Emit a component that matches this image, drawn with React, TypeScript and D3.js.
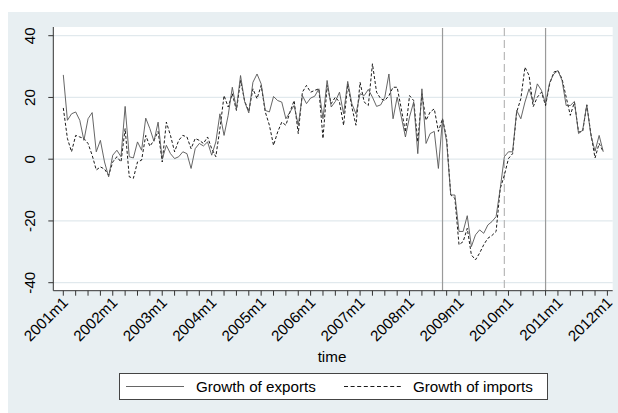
import React from "react";
import * as d3 from "d3";

const startYear = 2001;
const exportsGrowth = [
  27.3, 12.6, 14.7, 15.3, 12.6, 6.1, 13.1, 15.1, 2.4, 6.1, -0.9, -5.7,
  1.3, 2.9, 0.8, 17.1, 0.8, 0.4, 5.6, 2.9, 13.3, 9.9, 5.8, 12.0,
  0, 4.5, 1.8, 0.2, 0.8, 2.4, 1.8, -3.0, 3.4, 5.1, 4.3, 5.6,
  1.3, 5.6, 14.7, 7.7, 14.2, 23.3, 16.3, 27.1, 18.6, 15.0, 24.9, 27.6,
  24.4, 15.8, 15.3, 20.3, 19.0, 18.5, 13.1, 15.3, 17.4, 11.0, 20.6, 18.0,
  19.8, 20.4, 22.8, 13.1, 25.5, 16.9, 18.7, 21.7, 14.7, 25.2, 18.0, 14.7,
  21.2, 20.6, 22.6, 20.1, 17.1, 17.6, 20.1, 27.6, 13.1, 20.1, 13.7, 7.2,
  13.7, 18.5, 1.8, 22.8, 5.1, 8.3, 9.0, -3.0, 13.1, 5.6, -11.6, -11.6,
  -23.4, -23.4, -18.3, -28.3, -24.5, -22.9, -24.0, -21.3, -20.2, -18.6, -9.5, 0.8,
  2.4, 2.4, 15.8, 13.1, 18.5, 22.8, 18.5, 24.4, 22.3, 18.0, 24.9, 27.6,
  28.7, 25.5, 17.4, 17.4, 18.7, 8.3, 9.4, 17.6, 7.7, 2.6, 7.7, 2.4,
];
const importsGrowth = [
  16.6, 6.7, 2.4, 7.7, 7.2, 6.7, 5.1, 1.3, -3.5, -2.5, -3.2, -5.2,
  -0.9, 0.8, -0.9, 9.9, -5.7, -6.2, -0.9, -0.3, 7.7, 4.2, 6.1, 9.0,
  -0.9, 12.0, 7.7, 2.4, 6.1, 7.7, 7.2, 3.4, 6.7, 6.1, 5.1, 7.2,
  3.4, 0.8, 9.9, 20.6, 16.9, 21.2, 15.8, 25.5, 18.8, 15.5, 22.8, 19.6,
  23.9, 15.3, 11.0, 4.5, 8.8, 12.0, 11.0, 15.3, 19.0, 8.3, 21.7, 23.9,
  21.7, 22.3, 22.8, 6.7, 23.9, 18.0, 20.1, 18.5, 11.0, 24.4, 16.9, 11.0,
  24.9, 18.5, 17.4, 30.9, 21.7, 19.6, 19.0, 20.6, 23.3, 23.3, 16.3, 8.8,
  20.6, 19.0, 5.6, 21.2, 12.6, 15.3, 16.3, 9.0, 13.1, 6.7, -11.6, -12.7,
  -27.7, -26.7, -22.4, -31.0, -32.6, -30.4, -27.7, -25.6, -24.7, -23.4, -9.5, -5.2,
  0.2, 1.8, 15.3, 19.6, 29.8, 27.1, 17.0, 20.1, 21.7, 17.4, 24.4, 28.2,
  28.7, 26.0, 20.1, 14.2, 18.5, 8.8, 9.0, 17.6, 8.2, 0.4, 5.1, 2.4,
];
const xTickLabels = [
  "2001m1", "2002m1", "2003m1", "2004m1", "2005m1", "2006m1",
  "2007m1", "2008m1", "2009m1", "2010m1", "2011m1", "2012m1",
];
const yTicks = [-40, -20, 0, 20, 40];
const solidEventMonths = ["2008m9", "2010m10"];
const dashedEventMonths = ["2009m12"];
const legendLabels = ["Growth of exports", "Growth of imports"];
const xTitle = "time";

const monthIndex = (s: string) => {
  const [y, m] = s.split("m").map(Number);
  return (y - startYear) * 12 + (m - 1);
};

export default function App() {
  const W = 618, H = 413;
  const font = "'Liberation Sans', Arial, sans-serif";
  const fs = 15.2;
  const x = d3.scaleLinear().domain([0, 132]).range([63.3, 607.4]);
  const y = d3.scaleLinear().domain([-40, 40]).range([282.7, 35.7]);
  const plot = { left: 53.3, right: 612.7, top: 27, bottom: 290.7 };
  const line = d3
    .line<number>()
    .x((_, i) => x(i))
    .y((d) => y(d));
  const quarterTicks = d3.range(0, 133, 3);
  const legendX = 119.5, legendY = 373.5, legendW = 428, legendH = 26;
  const ly = legendY + legendH / 2;

  return (
    <svg
      width={W}
      height={H}
      style={{ position: "absolute", left: 0, top: 0, display: "block" }}
      fontFamily={font}
    >
      <rect x={0} y={0} width={W} height={H} fill="#ffffff" />
      <rect x={8} y={12} width={W - 8} height={H - 12} fill="#e8eff2" />
      <rect
        x={plot.left}
        y={plot.top}
        width={plot.right - plot.left}
        height={plot.bottom - plot.top}
        fill="#ffffff"
      />
      {yTicks.map((t) => (
        <line
          key={"g" + t}
          x1={plot.left}
          x2={plot.right}
          y1={y(t)}
          y2={y(t)}
          stroke="#e1e9ed"
          strokeWidth={1.3}
        />
      ))}
      {solidEventMonths.map((m) => (
        <line
          key={m}
          x1={x(monthIndex(m))}
          x2={x(monthIndex(m))}
          y1={plot.top + 1}
          y2={plot.bottom}
          stroke="#9a9a9a"
          strokeWidth={1.2}
        />
      ))}
      {dashedEventMonths.map((m) => (
        <line
          key={m}
          x1={x(monthIndex(m))}
          x2={x(monthIndex(m))}
          y1={plot.top + 1}
          y2={plot.bottom}
          stroke="#b8b8b8"
          strokeWidth={1.2}
          strokeDasharray="8,4"
        />
      ))}
      <path
        d={line(importsGrowth) || ""}
        fill="none"
        stroke="#000000"
        strokeWidth={0.9}
        strokeDasharray="3,2"
      />
      <path
        d={line(exportsGrowth) || ""}
        fill="none"
        stroke="#555555"
        strokeWidth={0.9}
      />
      {/* axes */}
      <line x1={plot.left} x2={plot.left} y1={plot.top} y2={plot.bottom} stroke="#333" strokeWidth={1} />
      <line x1={plot.left} x2={plot.right} y1={plot.bottom} y2={plot.bottom} stroke="#333" strokeWidth={1} />
      {yTicks.map((t) => (
        <g key={"yt" + t}>
          <line x1={plot.left - 5} x2={plot.left} y1={y(t)} y2={y(t)} stroke="#333" />
          <text
            transform={`translate(35,${y(t)}) rotate(-90)`}
            textAnchor="middle"
            fontSize={fs}
            fill="#000"
          >
            {t}
          </text>
        </g>
      ))}
      {quarterTicks.map((q) => (
        <line
          key={"xt" + q}
          x1={x(q)}
          x2={x(q)}
          y1={plot.bottom}
          y2={plot.bottom + 5}
          stroke="#333"
        />
      ))}
      {xTickLabels.map((lab) => (
        <text
          key={lab}
          transform={`translate(${x(monthIndex(lab)) + 2},${plot.bottom + 9}) rotate(-45)`}
          textAnchor="end"
          dy="0.35em"
          fontSize={fs}
          fill="#000"
        >
          {lab}
        </text>
      ))}
      <text x={332} y={362} textAnchor="middle" fontSize={fs} fill="#000">
        {xTitle}
      </text>
      {/* legend */}
      <rect
        x={legendX}
        y={legendY}
        width={legendW}
        height={legendH}
        fill="#ffffff"
        stroke="#444"
        strokeWidth={1}
      />
      <line x1={126} x2={184} y1={ly} y2={ly} stroke="#555" strokeWidth={0.9} />
      <text x={196} y={ly} dy="0.35em" fontSize={fs} fill="#000">
        {legendLabels[0]}
      </text>
      <line
        x1={344}
        x2={403}
        y1={ly}
        y2={ly}
        stroke="#000"
        strokeWidth={0.9}
        strokeDasharray="4,2.6"
      />
      <text x={413} y={ly} dy="0.35em" fontSize={fs} fill="#000">
        {legendLabels[1]}
      </text>
    </svg>
  );
}
